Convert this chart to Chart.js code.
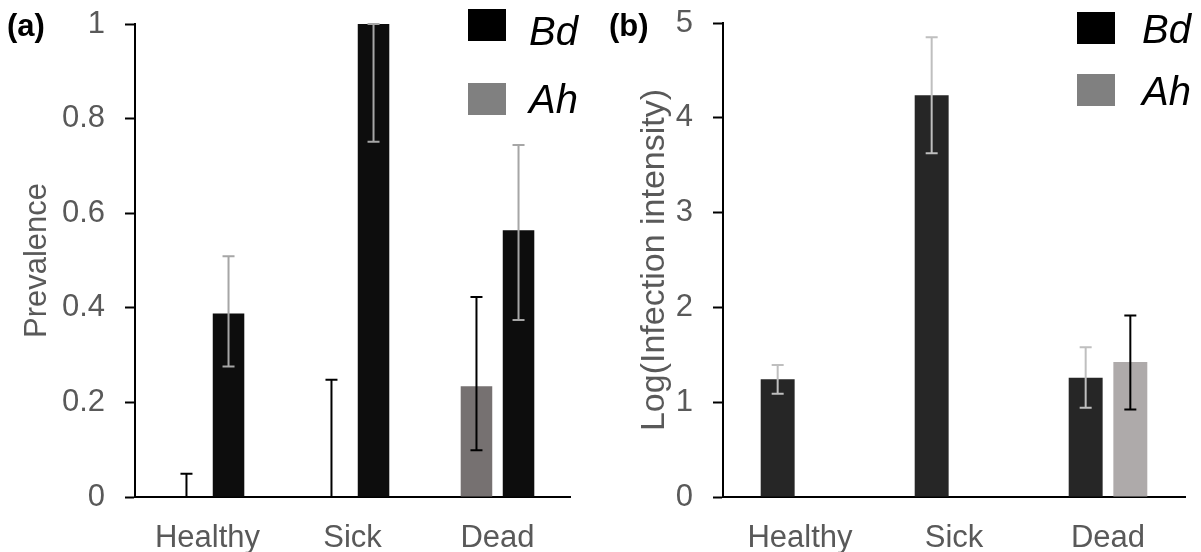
<!DOCTYPE html>
<html>
<head>
<meta charset="utf-8">
<script src="https://cdn.jsdelivr.net/npm/chart.js@4"></script>
<style>
  html, body { margin: 0; padding: 0; background: #fff; }
  .wrap { display: flex; width: 1201px; height: 552px; }
  .panel { position: relative; height: 552px; }
  #panel-a { width: 600px; }
  #panel-b { width: 601px; }
</style>
</head>
<body>
<div class="wrap">
  <div class="panel" id="panel-a"><canvas id="chart-a"></canvas></div>
  <div class="panel" id="panel-b"><canvas id="chart-b"></canvas></div>
</div>
<script>
const categories = ['Healthy', 'Sick', 'Dead'];
const legendLabels = ['Bd', 'Ah'];

// (a) prevalence
const prevAh = [0, 0, 0.234];
const prevAhLow = [0, 0, 0.099];
const prevAhHigh = [0.049, 0.248, 0.423];
const prevBd = [0.388, 1.0, 0.564];
const prevBdLow = [0.276, 0.751, 0.374];
const prevBdHigh = [0.509, 1.0, 0.744];
const prevTicks = [0, 0.2, 0.4, 0.6, 0.8, 1];

// (b) log(infection intensity)
const intBd = [1.242, 4.239, 1.259];
const intBdLow = [1.09, 3.627, 0.942];
const intBdHigh = [1.393, 4.849, 1.58];
const intAh = [0, 0, 1.425];
const intAhLow = [null, null, 0.924];
const intAhHigh = [null, null, 1.915];
const intTicks = [0, 1, 2, 3, 4, 5];

const FONT = "'Liberation Sans', Arial, sans-serif";
const GREY_TEXT = '#595959';
Chart.defaults.font.family = FONT;

// vertical error bars, placed through the y scale
const errorBars = {
  id: 'errorBars',
  afterDatasetsDraw(chart) {
    const { ctx } = chart;
    const y = chart.scales.y;
    chart.data.datasets.forEach((ds, i) => {
      if (!ds.errLow) return;
      const meta = chart.getDatasetMeta(i);
      meta.data.forEach((bar, j) => {
        const lo = ds.errLow[j], hi = ds.errHigh[j];
        if (lo == null || hi == null) return;
        const yLo = y.getPixelForValue(lo);
        const yHi = y.getPixelForValue(hi);
        const cap = 6;
        ctx.save();
        ctx.strokeStyle = ds.errColor;
        ctx.lineWidth = 2;
        ctx.beginPath();
        ctx.moveTo(bar.x, yLo); ctx.lineTo(bar.x, yHi);
        ctx.moveTo(bar.x - cap, yHi); ctx.lineTo(bar.x + cap, yHi);
        ctx.moveTo(bar.x - cap, yLo); ctx.lineTo(bar.x + cap, yLo);
        ctx.stroke();
        ctx.restore();
      });
    });
  }
};

// panel tag + boxed legend in the top right
const panelDecor = {
  id: 'panelDecor',
  afterDraw(chart, args, opts) {
    const { ctx } = chart;
    ctx.save();
    ctx.fillStyle = '#000';
    ctx.textBaseline = 'alphabetic';
    ctx.font = `bold 31px ${FONT}`;
    ctx.fillText(opts.tag, opts.tagX, opts.tagY);
    ctx.font = `italic 40px ${FONT}`;
    legendLabels.forEach((txt, k) => {
      ctx.fillStyle = opts.colors[k];
      ctx.fillRect(opts.boxX, opts.boxY[k], opts.boxW, opts.boxH);
      ctx.fillStyle = '#000';
      ctx.fillText(txt, opts.textX, opts.textY[k]);
    });
    ctx.restore();
  }
};

function axisOptions(ticksArr, min, max, title, titleSize, titlePad, areaLeft) {
  const leftPad = 8;
  return {
    x: {
      z: 1,
      grid: { display: false },
      border: { display: true, color: '#000', width: 2 },
      ticks: { color: GREY_TEXT, font: { size: 31 }, padding: 15 },
      afterFit: s => { s.height = 55; s.paddingLeft = 0; s.paddingRight = 0; },
    },
    y: {
      z: 1,
      min, max,
      afterBuildTicks: s => { s.ticks = ticksArr.map(v => ({ value: v })); },
      afterFit: s => { s.width = areaLeft - leftPad; s.paddingTop = 0; s.paddingBottom = 0; },
      grid: {
        display: true, drawOnChartArea: false, drawTicks: true,
        tickLength: 10, tickWidth: 2, tickColor: '#000',
      },
      border: { display: true, color: '#000', width: 2 },
      ticks: { color: GREY_TEXT, font: { size: 31 }, padding: 20, callback: v => v },
      title: {
        display: true, text: title, color: GREY_TEXT,
        font: { size: titleSize }, padding: { top: titlePad, bottom: 0 },
      },
    },
  };
}

new Chart(document.getElementById('chart-a'), {
  type: 'bar',
  data: {
    labels: categories,
    datasets: [
      { label: 'Ah', data: prevAh, backgroundColor: '#767171',
        errLow: prevAhLow, errHigh: prevAhHigh, errColor: '#000000' },
      { label: 'Bd', data: prevBd, backgroundColor: '#0D0D0D',
        errLow: prevBdLow, errHigh: prevBdHigh, errColor: '#A6A6A6' },
    ],
  },
  options: {
    responsive: true,
    maintainAspectRatio: false,
    animation: false,
    categoryPercentage: 0.58,
    barPercentage: 0.75,
    layout: { padding: { left: 8, right: 30, top: 24, bottom: 0 } },
    plugins: {
      legend: { display: false },
      tooltip: { enabled: false },
      panelDecor: {
        tag: '(a)', tagX: 7, tagY: 36,
        colors: ['#000000', '#808080'],
        boxX: 468, boxY: [9, 83], boxW: 38, boxH: 32,
        textX: 529, textY: [45, 113],
      },
    },
    scales: axisOptions(prevTicks, 0, 1, 'Prevalence', 31, 11, 135),
  },
  plugins: [errorBars, panelDecor],
});

new Chart(document.getElementById('chart-b'), {
  type: 'bar',
  data: {
    labels: categories,
    datasets: [
      { label: 'Bd', data: intBd, backgroundColor: '#262626',
        errLow: intBdLow, errHigh: intBdHigh, errColor: '#BFBFBF' },
      { label: 'Ah', data: intAh, backgroundColor: '#AEAAAA',
        errLow: intAhLow, errHigh: intAhHigh, errColor: '#000000' },
    ],
  },
  options: {
    responsive: true,
    maintainAspectRatio: false,
    animation: false,
    categoryPercentage: 0.58,
    barPercentage: 0.76,
    layout: { padding: { left: 8, right: 16, top: 23, bottom: 0 } },
    plugins: {
      legend: { display: false },
      tooltip: { enabled: false },
      panelDecor: {
        tag: '(b)', tagX: 9, tagY: 36,
        colors: ['#000000', '#808080'],
        boxX: 477, boxY: [12, 74], boxW: 38, boxH: 32,
        textX: 542, textY: [43, 105],
      },
    },
    scales: axisOptions(intTicks, 0, 5, 'Log(Infection intensity)', 34, 26, 123),
  },
  plugins: [errorBars, panelDecor],
});
</script>
</body>
</html>
